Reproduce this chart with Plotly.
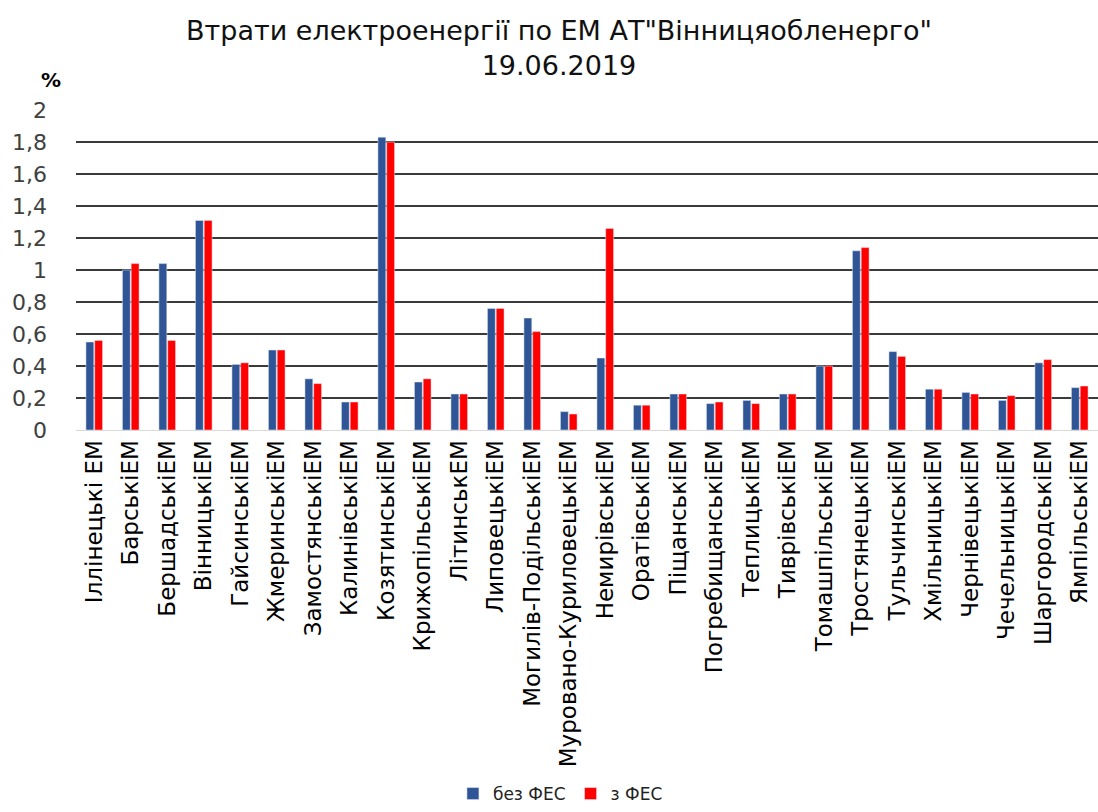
import plotly.graph_objects as go

categories = ["Іллінецькі ЕМ", "БарськіЕМ", "БершадськіЕМ", "ВінницькіЕМ", "ГайсинськіЕМ",
              "ЖмеринськіЕМ", "ЗамостянськіЕМ", "КалинівськіЕМ", "КозятинськіЕМ", "КрижопільськіЕМ",
              "ЛітинськЕМ", "ЛиповецькіЕМ", "Могилів-ПодільськіЕМ", "Муровано-КуриловецькіЕМ",
              "НемирівськіЕМ", "ОратівськіЕМ", "ПіщанськіЕМ", "ПогребищанськіЕМ", "ТеплицькіЕМ",
              "ТиврівськіЕМ", "ТомашпільськіЕМ", "ТростянецькіЕМ", "ТульчинськіЕМ", "ХмільницькіЕМ",
              "ЧернівецькіЕМ", "ЧечельницькіЕМ", "ШаргородськіЕМ", "ЯмпільськіЕМ"]

bez_fes = [0.55, 1.00, 1.04, 1.31, 0.41, 0.50, 0.32, 0.175, 1.83, 0.30,
           0.225, 0.76, 0.70, 0.115, 0.45, 0.155, 0.225, 0.165, 0.185,
           0.225, 0.40, 1.12, 0.49, 0.255, 0.235, 0.185, 0.42, 0.265]
z_fes = [0.56, 1.04, 0.56, 1.31, 0.42, 0.50, 0.29, 0.175, 1.80, 0.32,
         0.225, 0.76, 0.615, 0.10, 1.26, 0.155, 0.225, 0.175, 0.165,
         0.225, 0.40, 1.14, 0.46, 0.255, 0.225, 0.215, 0.44, 0.275]

tick_vals = [0, 0.2, 0.4, 0.6, 0.8, 1.0, 1.2, 1.4, 1.6, 1.8, 2.0]

fig = go.Figure()
fig.add_trace(go.Bar(x=categories, y=bez_fes, name="без ФЕС", marker_color="#2F5597"))
fig.add_trace(go.Bar(x=categories, y=z_fes, name="з ФЕС", marker_color="#FF0000"))

fig.update_layout(
    width=1098, height=812,
    margin=dict(l=76, r=0, t=110, b=377),
    paper_bgcolor="white", plot_bgcolor="white",
    separators=", ",
    barmode="group", bargap=0.52, bargroupgap=0.1,
    font=dict(family="DejaVu Sans, Verdana, sans-serif", color="#000000"),
    showlegend=True,
    legend=dict(orientation="h", x=0.474, xanchor="center", y=-1.14, yanchor="middle",
                font=dict(family="DejaVu Sans, Verdana, sans-serif", size=17, color="#222"),
                itemwidth=30, traceorder="normal"),
    annotations=[
        dict(text="Втрати електроенергії по ЕМ АТ\"Вінницяобленерго\"<br>19.06.2019",
             xref="paper", yref="paper", x=0.473, y=1.0, yanchor="bottom", xanchor="center",
             yshift=27, showarrow=False, align="center",
             font=dict(family="DejaVu Sans, sans-serif", size=27, color="#111")),
        dict(text="<b>%</b>", xref="paper", yref="paper", x=-0.024, y=1.0, yanchor="bottom",
             xanchor="center", yshift=16, showarrow=False,
             font=dict(family="DejaVu Sans, Verdana, sans-serif", size=20)),
    ],
)
fig.update_xaxes(tickangle=-90, tickfont=dict(size=23, color="#000"), showline=True,
                 linecolor="#D9D9D9", linewidth=1, ticks="", automargin=False)
fig.update_yaxes(range=[0, 2], tickvals=tick_vals, tickformat=".1~f",
                 showgrid=True, gridcolor="#3A3A3A", gridwidth=2, zeroline=False,
                 tickfont=dict(family="DejaVu Sans, Verdana, sans-serif", size=22, color="#404040"),
                 ticks="", ticklabelstandoff=28, automargin=False)

fig.write_html("out.html")
